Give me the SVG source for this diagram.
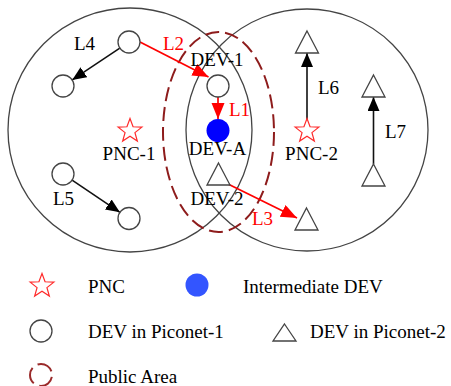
<svg xmlns="http://www.w3.org/2000/svg" xmlns:xlink="http://www.w3.org/1999/xlink" width="451" height="386" viewBox="0 0 451 386">
<style>
.area{fill:none;stroke:#444;stroke-width:1.3}
.pub{fill:none;stroke:#8e1c1c;stroke-width:2;stroke-dasharray:14 6}
.dev{fill:#fff;stroke:#444;stroke-width:1.3}
.pnc{fill:#fff;stroke:#ff2a2a;stroke-width:1.2}
.lk{fill:none;stroke:#111;stroke-width:1.6}
.lr{fill:none;stroke:#ff0000;stroke-width:1.7}
text{font-family:"Liberation Serif","Times New Roman",serif;font-size:19px;fill:#000}
.red{fill:#ff0000}
.mid{text-anchor:middle}
</style>
<defs>
<path id="star" d="M0,-12.5 L3.06,-4.21 L11.89,-3.86 L4.95,1.61 L7.35,10.11 L0,5.2 L-7.35,10.11 L-4.95,1.61 L-11.89,-3.86 L-3.06,-4.21 Z"/>
<path id="tri" d="M0,-11 L11.5,11 L-11.5,11 Z"/>
<marker id="ak" markerUnits="userSpaceOnUse" markerWidth="15" markerHeight="13" refX="14" refY="6" orient="auto">
<path d="M0,0 L14,6 L0,12 Z" fill="#000"/>
</marker>
<marker id="ar" markerUnits="userSpaceOnUse" markerWidth="17" markerHeight="14" refX="16" refY="6.5" orient="auto">
<path d="M0,0 L16,6.5 L0,13 Z" fill="#ff0000"/>
</marker>
</defs>

<g id="areas">
<circle class="area" cx="130" cy="130" r="122"/>
<circle class="area" cx="307" cy="130" r="121"/>
<ellipse class="pub" cx="218.5" cy="132" rx="55.5" ry="100"/>
</g>

<g id="connectors">
<line class="lk" x1="119.8" y1="48.1" x2="72.2" y2="79.9" marker-end="url(#ak)"/>
<line class="lk" x1="72.1" y1="180.1" x2="119.9" y2="212.3" marker-end="url(#ak)"/>
<line class="lr" x1="140" y1="42" x2="208.5" y2="77" marker-end="url(#ar)"/>
<line class="lr" x1="218" y1="97" x2="218" y2="119" marker-end="url(#ar)"/>
<line class="lr" x1="228" y1="184" x2="297" y2="218" marker-end="url(#ar)"/>
<line class="lk" x1="307" y1="120" x2="307" y2="53" marker-end="url(#ak)"/>
<line class="lk" x1="373.5" y1="164" x2="373.5" y2="97" marker-end="url(#ak)"/>
</g>

<g id="pnc1"><use xlink:href="#star" href="#star" class="pnc" x="130" y="131"/><text class="mid" x="129" y="160">PNC-1</text></g>
<g id="pnc2"><use xlink:href="#star" href="#star" class="pnc" x="307" y="131"/><text class="mid" x="311.5" y="160">PNC-2</text></g>

<g id="l4src"><circle class="dev" cx="129" cy="42" r="11"/></g>
<g id="l4dst"><circle class="dev" cx="63" cy="86" r="11"/></g>
<g id="l5src"><circle class="dev" cx="63" cy="174" r="11"/></g>
<g id="l5dst"><circle class="dev" cx="129" cy="218.5" r="11"/></g>
<g id="dev1"><circle class="dev" cx="218" cy="86" r="11"/><text class="mid" x="217" y="66">DEV-1</text></g>
<g id="devA"><circle cx="218" cy="130.5" r="11.5" fill="#0000ff"/><text class="mid" x="217.5" y="155">DEV-A</text></g>
<g id="dev2"><use xlink:href="#tri" href="#tri" class="dev" x="218.5" y="174"/><text class="mid" x="217" y="205">DEV-2</text></g>
<g id="l3dst"><use xlink:href="#tri" href="#tri" class="dev" x="306.5" y="219"/></g>
<g id="l6dst"><use xlink:href="#tri" href="#tri" class="dev" x="307" y="42"/></g>
<g id="l7dst"><use xlink:href="#tri" href="#tri" class="dev" x="373.5" y="86"/></g>
<g id="l7src"><use xlink:href="#tri" href="#tri" class="dev" x="373.5" y="175"/></g>

<g id="labels">
<text x="74" y="50">L4</text>
<text x="53" y="205">L5</text>
<text class="red" x="163" y="50">L2</text>
<text class="red" x="229" y="116">L1</text>
<text class="red" x="252" y="225">L3</text>
<text x="318" y="94">L6</text>
<text x="385" y="138">L7</text>
</g>

<g id="legend">
<use xlink:href="#star" href="#star" class="pnc" x="42" y="286"/>
<text x="88" y="293">PNC</text>
<circle cx="197" cy="285" r="11.5" fill="#3355ff"/>
<text x="243" y="293">Intermediate DEV</text>
<circle class="dev" cx="41" cy="331" r="11"/>
<text x="88" y="338">DEV in Piconet-1</text>
<path class="dev" d="M284.5,324 L296,341 L273,341 Z"/>
<text x="310" y="338">DEV in Piconet-2</text>
<circle cx="41" cy="375" r="11" fill="none" stroke="#9a2a2a" stroke-width="2" stroke-dasharray="17 6" stroke-dashoffset="-2"/>
<text x="88" y="383">Public Area</text>
</g>
</svg>
